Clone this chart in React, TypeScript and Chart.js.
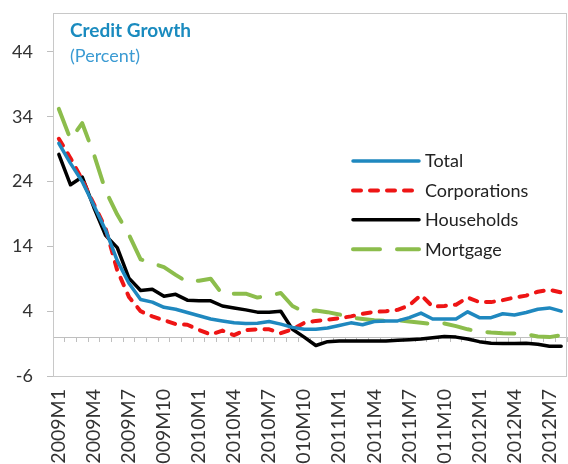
import React, { useEffect, useRef } from "react";
import { Chart, registerables } from "chart.js";

Chart.register(...registerables);

const months = [
  "2009M1", "2009M2", "2009M3", "2009M4", "2009M5", "2009M6", "2009M7", "2009M8", "2009M9", "2009M10", "2009M11", "2009M12",
  "2010M1", "2010M2", "2010M3", "2010M4", "2010M5", "2010M6", "2010M7", "2010M8", "2010M9", "2010M10", "2010M11", "2010M12",
  "2011M1", "2011M2", "2011M3", "2011M4", "2011M5", "2011M6", "2011M7", "2011M8", "2011M9", "2011M10", "2011M11", "2011M12",
  "2012M1", "2012M2", "2012M3", "2012M4", "2012M5", "2012M6", "2012M7", "2012M8",
];

const total = [
  29.9, 26.8, 24.0, 20.3, 16.5, 11.8, 8.3, 5.8, 5.4, 4.6, 4.3, 3.8,
  3.3, 2.8, 2.5, 2.2, 2.1, 2.15, 2.4, 2.0, 1.5, 1.2, 1.2, 1.4,
  1.8, 2.2, 1.9, 2.4, 2.5, 2.5, 3.0, 3.7, 2.8, 2.8, 2.8, 3.9,
  3.0, 3.0, 3.6, 3.4, 3.8, 4.3, 4.5, 4.0,
];

const corporations = [
  30.6, 27.6, 24.3, 20.5, 16.8, 10.3, 6.2, 4.0, 3.2, 2.6, 2.0, 1.9,
  1.1, 0.4, 1.0, 0.3, 1.1, 1.2, 1.2, 0.6, 1.2, 2.2, 2.5, 2.7,
  2.9, 3.2, 3.6, 3.9, 4.0, 4.2, 4.9, 6.5, 4.7, 4.8, 5.0, 6.1,
  5.4, 5.4, 5.7, 6.1, 6.4, 7.0, 7.3, 6.9,
];

const households = [
  28.2, 23.5, 24.7, 20.0, 15.7, 13.8, 9.1, 7.2, 7.4, 6.3, 6.6, 5.7,
  5.6, 5.6, 4.8, 4.5, 4.2, 3.85, 3.85, 4.0, 1.2, 0.0, -1.3, -0.7,
  -0.6, -0.6, -0.6, -0.6, -0.6, -0.5, -0.4, -0.3, -0.1, 0.1, 0.0, -0.3,
  -0.7, -0.95, -1.0, -1.0, -0.95, -1.1, -1.4, -1.4,
];

const mortgage = [
  35.2, 30.5, 33.0, 28.2, 22.6, 18.9, 15.8, 12.0, 11.4, 10.8, 9.6, 8.5,
  8.7, 9.0, 6.6, 6.7, 6.7, 6.1, 6.4, 6.8, 4.8, 3.9, 4.1, 3.85,
  3.5, 3.0, 2.8, 2.6, 2.5, 2.6, 2.4, 2.2, 2.0, 2.1, 1.7, 1.2,
  0.85, 0.7, 0.6, 0.55, 0.45, 0.1, 0.0, 0.3,
];

const seriesNames = ["Total", "Corporations", "Households", "Mortgage"];
const yTicks = [-6, 4, 14, 24, 34, 44];
const yMin = -6;
const yMax = 50;
const titleText = "Credit Growth";
const subtitleText = "(Percent)";

const FONT = "Lato, 'DejaVu Sans', sans-serif";

const decorPlugin = {
  id: "decor",
  beforeDatasetsDraw(chart: any) {
    const { ctx, chartArea: a } = chart;
    ctx.save();
    ctx.strokeStyle = "#c8c8c8";
    ctx.lineWidth = 1;
    const l = Math.round(a.left) + 0.5;
    const t = Math.round(a.top) + 0.5;
    const r = Math.round(a.right) - 0.5;
    const b = Math.round(a.bottom) + 0.5;
    ctx.strokeRect(l, t, r - l, b - t);
    ctx.restore();
  },
  afterDraw(chart: any) {
    const { ctx, chartArea: a } = chart;
    ctx.save();
    ctx.textAlign = "left";
    ctx.textBaseline = "alphabetic";
    ctx.fillStyle = "#1a8bbf";
    ctx.font = `bold 19px ${FONT}`;
    ctx.fillText(titleText, a.left + 17, a.top + 23.5);
    ctx.fillStyle = "#3b9bd3";
    ctx.font = `18px ${FONT}`;
    ctx.fillText(subtitleText, a.left + 17, a.top + 48.5);

    // legend inside plot area
    chart.data.datasets.forEach((ds: any, i: number) => {
      const y = a.top + 148 + i * 29.4;
      const x0 = a.left + 300;
      ctx.save();
      ctx.strokeStyle = ds.borderColor;
      ctx.lineWidth = ds.borderWidth;
      ctx.lineCap = ds.borderCapStyle || "round";
      ctx.setLineDash(ds.borderDash || []);
      ctx.beginPath();
      ctx.moveTo(x0, y);
      ctx.lineTo(x0 + 66, y);
      ctx.stroke();
      ctx.restore();
      ctx.fillStyle = "#222";
      ctx.font = `18px ${FONT}`;
      ctx.fillText(ds.label, x0 + 72, y + 6.3);
    });
    ctx.restore();
  },
};

export default function App() {
  const ref = useRef<HTMLCanvasElement | null>(null);

  useEffect(() => {
    document.body.style.margin = "0";
    const canvas = ref.current;
    if (!canvas) return;
    const chart = new Chart(canvas, {
      type: "line",
      data: {
        labels: months,
        datasets: [
          {
            label: seriesNames[0],
            data: total,
            borderColor: "#1f88bf",
            borderWidth: 3.5,
            borderCapStyle: "round",
            borderJoinStyle: "round",
          },
          {
            label: seriesNames[1],
            data: corporations,
            borderColor: "#ee1515",
            borderWidth: 4,
            borderDash: [8, 9],
            borderCapStyle: "round",
            borderJoinStyle: "round",
          },
          {
            label: seriesNames[2],
            data: households,
            borderColor: "#000000",
            borderWidth: 3.5,
            borderCapStyle: "round",
            borderJoinStyle: "round",
          },
          {
            label: seriesNames[3],
            data: mortgage,
            borderColor: "#8cbd4c",
            borderWidth: 4,
            borderDash: [27, 17],
            borderCapStyle: "round",
            borderJoinStyle: "round",
          },
        ],
      },
      options: {
        responsive: false,
        animation: false,
        layout: { padding: { top: 13, right: 1, left: 0, bottom: 0 } },
        elements: { point: { radius: 0 }, line: { tension: 0, fill: false } },
        plugins: {
          legend: { display: false },
          tooltip: { enabled: false },
          title: { display: false },
        },
        scales: {
          x: {
            type: "category",
            offset: true,
            grid: { display: false, drawTicks: false },
            border: { display: false },
            ticks: {
              autoSkip: false,
              minRotation: 90,
              maxRotation: 90,
              padding: 13,
              color: "#333",
              font: { family: FONT, size: 19.5 },
              callback: (_v: any, i: number) => (i % 3 === 0 ? months[i] : ""),
            },
            afterFit: (s: any) => {
              s.height = 88;
              s.paddingLeft = 0;
              s.paddingRight = 0;
            },
          },
          x2: {
            type: "category",
            axis: "x",
            position: { y: 0 },
            offset: true,
            grid: {
              offset: true,
              drawOnChartArea: false,
              drawTicks: true,
              tickLength: 4,
              color: "#bfbfbf",
            },
            border: { display: true, color: "#bfbfbf", width: 1 },
            ticks: { display: false },
            afterFit: (s: any) => {
              s.paddingLeft = 0;
              s.paddingRight = 0;
            },
          },
          y: {
            type: "linear",
            min: yMin,
            max: yMax,
            afterBuildTicks: (s: any) => {
              s.ticks = yTicks.map((v) => ({ value: v }));
            },
            grid: {
              drawOnChartArea: false,
              drawTicks: true,
              tickLength: 6,
              color: "#bfbfbf",
            },
            border: { display: false },
            ticks: {
              padding: 14,
              color: "#333",
              font: { family: FONT, size: 18 },
            },
            afterFit: (s: any) => {
              s.width = 53;
              s.paddingTop = 0;
              s.paddingBottom = 0;
            },
          },
        },
      },
      plugins: [decorPlugin],
    } as any);
    return () => chart.destroy();
  }, []);

  return (
    <div style={{ width: 568, height: 464, overflow: "hidden" }}>
      <canvas ref={ref} width={568} height={464} style={{ display: "block" }} />
    </div>
  );
}
